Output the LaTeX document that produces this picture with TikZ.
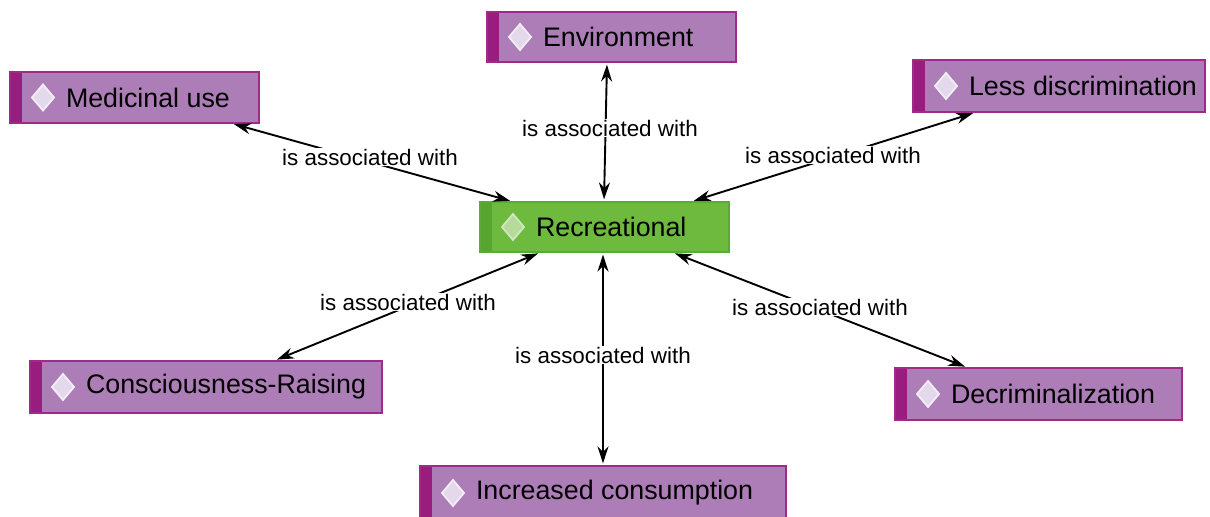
\documentclass[tikz,border=0pt]{standalone}
\usepackage{fontspec}
\setmainfont{Liberation Sans}
\usetikzlibrary{arrows.meta,calc}
\definecolor{pfill}{HTML}{AD7DB8}
\definecolor{pstrip}{HTML}{981D7E}
\definecolor{pborder}{HTML}{A02A88}
\definecolor{gfill}{HTML}{6DBA3F}
\definecolor{gstrip}{HTML}{58A431}
\definecolor{gborder}{HTML}{5AAB34}
\definecolor{pdia}{HTML}{E4D8EC}
\definecolor{pdiab}{HTML}{F3EEF6}
\definecolor{gdia}{HTML}{B5DA9C}
\definecolor{gdiab}{HTML}{CFE8BF}
\tikzset{
  anybox/.style={inner xsep=28pt, inner ysep=0pt, text=black,
    font=\fontsize{13.4}{16}\selectfont, line width=0.6pt},
  pbox/.style={anybox, draw=pborder, fill=pfill,
    path picture={
      \fill[pstrip] (path picture bounding box.south west) rectangle ([xshift=6pt]path picture bounding box.north west);
      \filldraw[fill=pdia, draw=pdiab, line width=0.9pt] ([xshift=16.5pt]path picture bounding box.west) +(-5.5pt,0pt) -- +(0pt,6.5pt) -- +(5.5pt,0pt) -- +(0pt,-6.5pt) -- cycle;
    }},
  gbox/.style={anybox, draw=gborder, fill=gfill,
    path picture={
      \fill[gstrip] (path picture bounding box.south west) rectangle ([xshift=6pt]path picture bounding box.north west);
      \filldraw[fill=gdia, draw=gdiab, line width=0.9pt] ([xshift=16.5pt]path picture bounding box.west) +(-5.5pt,0pt) -- +(0pt,6.5pt) -- +(5.5pt,0pt) -- +(0pt,-6.5pt) -- cycle;
    }},
  conn/.style={line width=0.95pt, shorten <=1pt, shorten >=1pt, {Stealth[length=8.5pt,width=5.5pt]}-{Stealth[length=8.5pt,width=5.5pt]}},
  lbl/.style={fill=white, inner sep=0.5pt, text=black, font=\fontsize{11.2}{13}\selectfont}
}
\begin{document}
\begin{tikzpicture}[x=0.5pt, y=-0.5pt]
\useasboundingbox (0,0) rectangle (1210,517);
% boxes
\node[pbox, minimum width=124.5pt, minimum height=25pt] (env) at (611.5,37) {\makebox[68.5pt][l]{Environment}};
\node[pbox, minimum width=124.5pt, minimum height=25.5pt] (med) at (134.5,97.5) {\makebox[68.5pt][l]{Medicinal use}};
\node[pbox, minimum width=146pt, minimum height=26pt] (less) at (1059,86) {\makebox[90pt][l]{Less discrimination}};
\node[gbox, minimum width=124.5pt, minimum height=25pt] (rec) at (604.5,227) {\makebox[68.5pt][l]{Recreational}};
\node[pbox, minimum width=176pt, minimum height=26pt] (cons) at (206,387) {\makebox[120pt][l]{Consciousness-Raising}};
\node[pbox, minimum width=143.5pt, minimum height=26pt] (decr) at (1038.5,394) {\makebox[87.5pt][l]{Decriminalization}};
\node[pbox, minimum width=183pt, minimum height=27pt] (inc) at (603,493) {\makebox[127pt][l]{Increased consumption}};
% connectors
\draw[conn] ([xshift=48.75pt]med.south) -- ([xshift=-46.25pt]rec.north);
\draw[conn] ([xshift=-2.25pt]env.south) -- ([xshift=-0.25pt]rec.north);
\draw[conn] ([xshift=-42pt]less.south) -- ([xshift=43.75pt]rec.north);
\draw[conn] ([xshift=-32.25pt]rec.south) -- ([xshift=34.5pt]cons.north);
\draw[conn] ([xshift=-0.75pt]rec.south) -- (inc.north);
\draw[conn] ([xshift=34.25pt]rec.south) -- ([xshift=-35.75pt]decr.north);
% labels
\node[lbl] (l1) at (370,157) {is associated with};
\node[lbl] (l2) at (610,128) {is associated with};
\node[lbl] (l3) at (833,155) {is associated with};
\node[lbl] (l4) at (408,302) {is associated with};
\node[lbl] (l5) at (603,355) {is associated with};
\node[lbl] (l6) at (820,307) {is associated with};
\end{tikzpicture}
\end{document}
